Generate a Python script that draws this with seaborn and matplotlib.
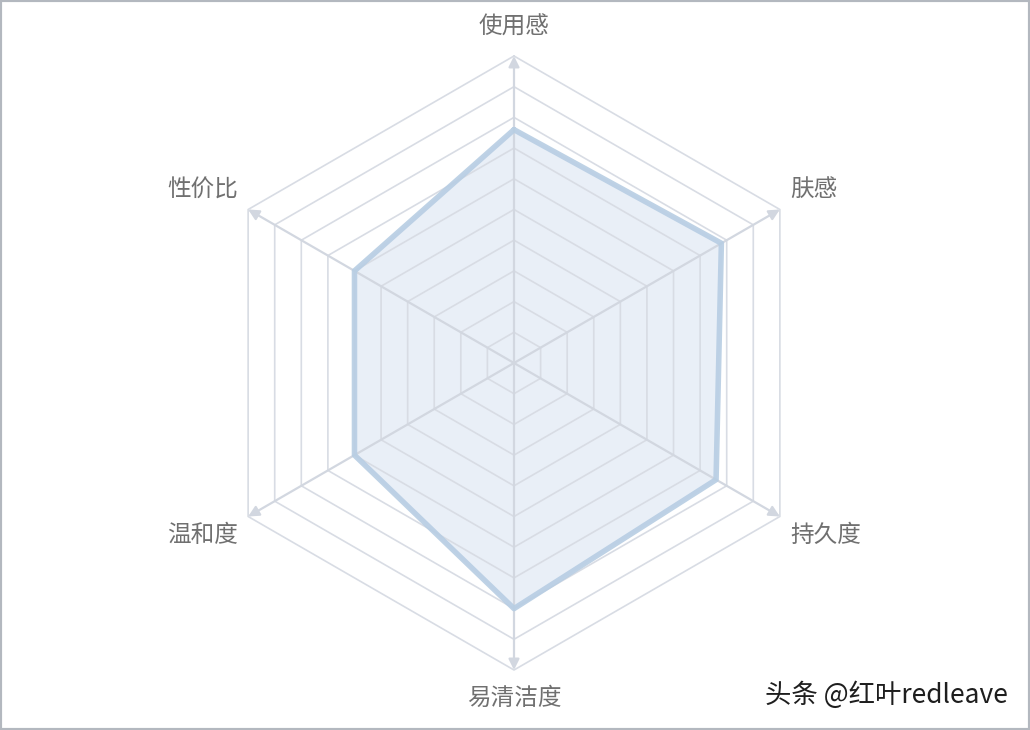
import numpy as np
import pandas as pd
import matplotlib
matplotlib.use('Agg')
import matplotlib.pyplot as plt
import seaborn as sns
from matplotlib.patches import Rectangle

# Radar data (clockwise from top)
categories = ['使用感', '肤感', '持久度', '易清洁度', '温和度', '性价比']
scores = [7.6, 7.8, 7.6, 8.0, 6.0, 6.0]
levels = [1, 2, 3, 4, 5, 6, 7, 8, 9, 10]
watermark = '头条 @红叶redleave'

sns.set_theme(style='white')
plt.rcParams['font.family'] = ['Noto Sans CJK SC', 'DejaVu Sans']

grid_color = '#d8dce4'
axis_color = '#d2d7e0'
line_color = '#b7cde3'
fill_color = '#e9eff7'
label_color = '#707070'

n = len(categories)
angles = np.deg2rad(90 - 60 * np.arange(n))
rmax = max(levels)
px = 30.7  # pixels per unit

fig = plt.figure(figsize=(10.3, 7.3), dpi=100)
ax = fig.add_axes([0, 0, 1, 1])
cx, cy = 514, 363
ax.set_xlim(-cx / px, (1030 - cx) / px)
ax.set_ylim(-(730 - cy) / px, cy / px)
ax.axis('off')

# polygon grid
for lv in levels:
    xs = np.append(lv * np.cos(angles), lv * np.cos(angles[0]))
    ys = np.append(lv * np.sin(angles), lv * np.sin(angles[0]))
    ax.plot(xs, ys, color=grid_color, lw=1.2, zorder=2)

# spokes with arrowheads
for a in angles:
    ax.annotate('', xy=(rmax * np.cos(a), rmax * np.sin(a)), xytext=(0, 0),
                arrowprops=dict(arrowstyle='-|>', color=axis_color, lw=1.6,
                                mutation_scale=16, shrinkA=0, shrinkB=0),
                zorder=3)

# data polygon
vals = np.array(scores)
df = pd.DataFrame({'x': vals * np.cos(angles), 'y': vals * np.sin(angles)})
df = pd.concat([df, df.iloc[:1]], ignore_index=True)
ax.fill(df['x'], df['y'], color=fill_color, zorder=1)
sns.lineplot(data=df, x='x', y='y', sort=False, estimator=None, ax=ax,
             color=line_color, lw=4, alpha=0.9, zorder=4)

# category labels
for cat, a in zip(categories, angles):
    c, s = np.cos(a), np.sin(a)
    if abs(c) < 0.01:
        ax.text(0, 10.55 * np.sign(s), cat, ha='center',
                va='bottom' if s > 0 else 'top', fontsize=17, color=label_color)
    else:
        ax.text(9.0 * np.sign(c), 11.25 * s, cat,
                ha='left' if c > 0 else 'right', va='center',
                fontsize=17, color=label_color)

fig.text(0.979, 0.047, watermark, ha='right', va='center', fontsize=19,
         color='#1e1e1e')
fig.patches.append(Rectangle((0, 0), 1, 1, transform=fig.transFigure,
                             fill=False, edgecolor='#b3b8bf', lw=3))

fig.savefig('out.png', dpi=100, facecolor='white')
